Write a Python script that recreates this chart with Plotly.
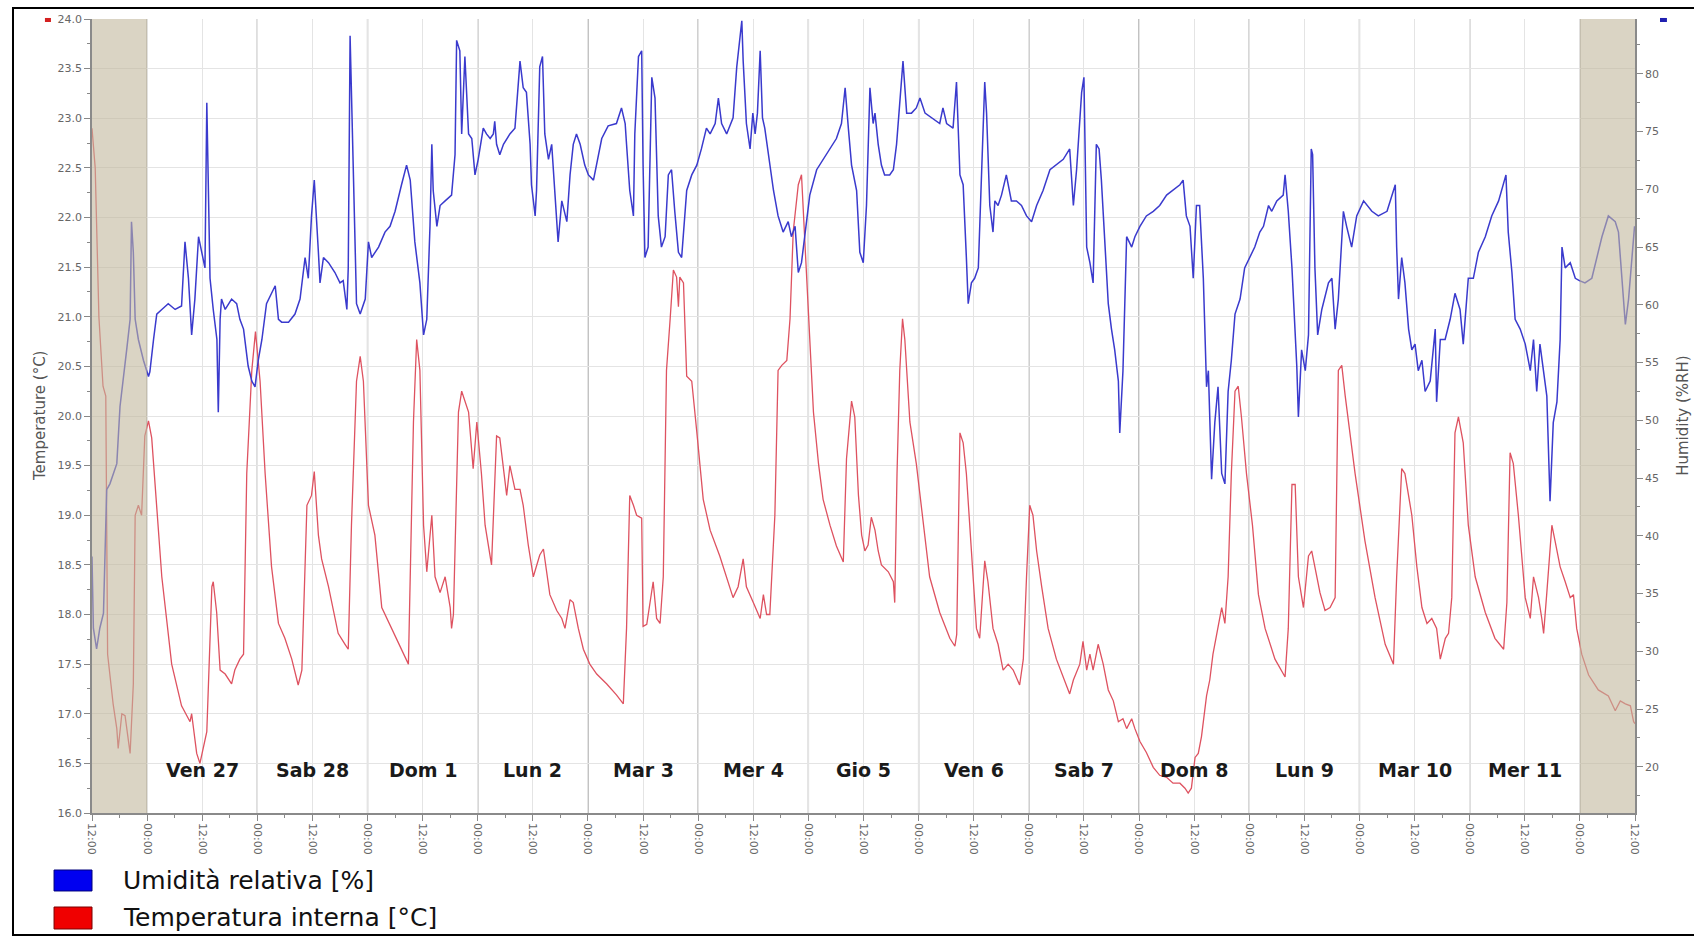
import pandas as pd
import plotly.graph_objects as go

# ---------------- data ----------------
start_time = "2015-02-26 12:00"
end_time = "2015-03-12 12:00"

temp_hours = [0.0, 0.7, 1.5, 2.4, 3.0, 3.4, 4.6, 5.4, 5.7, 6.5, 7.2, 8.3, 9.0, 9.4, 10.1, 10.8, 11.5, 12.3,
              13.0, 15.2, 17.35, 19.5, 21.35, 21.7, 22.8, 23.5, 25.0, 26.1, 26.4, 27.15, 27.9, 29.0, 30.4, 31.1,
              32.2, 33.0, 33.7, 34.8, 35.6, 36.6, 37.7, 39.1, 40.6, 42.0, 43.5, 44.9, 45.7, 46.8, 47.8, 48.4,
              49.3, 50.0, 51.5, 53.6, 55.1, 55.8, 56.5, 57.6, 58.4, 59.1, 60.2, 61.6, 63.1, 65.3, 67.4, 68.9,
              70.0, 70.7, 71.4, 72.2, 72.9, 74.0, 74.7, 75.8, 76.9, 78.0, 78.3, 78.7, 79.8, 80.5, 82.0, 83.0,
              83.8, 84.8, 85.6, 87.0, 88.1, 88.8, 90.3, 91.0, 92.1, 93.2, 93.9, 95.0, 96.1, 96.8, 97.5, 98.3,
              99.7, 101.2, 102.3, 103.0, 104.1, 104.8, 105.9, 107.0, 108.4, 109.9, 112.1, 114.2, 115.7, 116.4,
              117.1, 117.9, 118.6, 119.7, 120.0, 120.8, 122.2, 122.95, 123.7, 124.4, 125.1, 125.9, 126.6, 127.3,
              127.7, 128.0, 128.8, 129.5, 130.6, 131.7, 133.1, 134.6, 136.7, 139.6, 140.7, 141.8, 142.5, 144.0,
              145.5, 146.2, 146.9, 147.6, 148.7, 149.4, 150.2, 151.3, 152.0, 152.7, 153.8, 154.5, 155.3, 156.0,
              157.1, 158.2, 159.2, 160.7, 162.1, 163.6, 164.3, 165.4, 166.1, 166.9, 167.6, 168.3, 169.0, 169.7,
              170.5, 171.2, 171.9, 173.4, 174.5, 174.8, 175.3, 175.9, 176.5, 177.0, 178.1, 179.5, 181.0, 182.4,
              184.6, 186.8, 187.9, 188.3, 189.0, 189.7, 190.4, 191.5, 192.6, 193.3, 194.4, 195.1, 196.2, 197.3,
              198.4, 199.5, 200.6, 202.0, 202.8, 203.5, 204.2, 204.9, 205.7, 206.8, 208.2, 210.0, 211.8, 212.9,
              213.7, 215.1, 215.8, 216.6, 217.3, 218.0, 219.1, 220.2, 221.3, 222.4, 223.5, 224.5, 225.3, 226.4,
              227.1, 228.2, 229.6, 231.1, 232.5, 234.0, 235.4, 236.9, 238.0, 238.7, 239.4, 240.2, 240.9, 241.6,
              242.7, 243.4, 244.1, 245.2, 246.0, 246.7, 247.4, 248.1, 248.9, 249.6, 250.3, 251.4, 252.7, 254.0,
              255.45, 257.6, 259.8, 260.5, 261.3, 262.0, 262.7, 263.8, 264.9, 265.6, 266.3, 267.4, 268.5, 269.6,
              270.7, 271.4, 272.15, 272.9, 275.05, 277.2, 279.4, 281.6, 283.4, 284.1, 285.2, 285.9, 287.4, 288.5,
              289.6, 290.7, 291.75, 292.8, 293.6, 294.7, 295.4, 296.1, 296.8, 297.55, 298.6, 299.7, 301.2, 303.4,
              305.5, 307.4, 308.1, 308.8, 309.5, 310.6, 312.1, 313.2, 313.9, 315.0, 315.7, 316.1, 316.8, 317.9,
              318.6, 319.7, 320.8, 321.9, 322.6, 323.3, 324.4, 325.9, 328.0, 330.2, 331.7, 332.8, 333.9, 335.0,
              335.7, 336.0]
temp_values = [22.9, 22.5, 21.0, 20.3, 20.2, 17.6, 17.1, 16.85, 16.65, 17.0, 16.98, 16.6, 17.3, 19.0, 19.1, 19.0,
               19.8, 19.95, 19.78, 18.38, 17.5, 17.08, 16.92, 17.0, 16.6, 16.5, 16.82, 18.28, 18.33, 18.02, 17.44,
               17.4, 17.3, 17.44, 17.55, 17.6, 19.42, 20.46, 20.85, 20.35, 19.42, 18.48, 17.91, 17.76, 17.55,
               17.29, 17.44, 19.1, 19.2, 19.44, 18.8, 18.56, 18.28, 17.81, 17.7, 17.65, 18.9, 20.35, 20.6, 20.35,
               19.1, 18.8, 18.07, 17.86, 17.65, 17.5, 19.94, 20.77, 20.46, 18.9, 18.43, 19.0, 18.38, 18.22, 18.38,
               18.07, 17.86, 18.0, 20.04, 20.25, 20.04, 19.47, 19.94, 19.42, 18.9, 18.5, 19.8, 19.78, 19.2, 19.5,
               19.26, 19.26, 19.1, 18.7, 18.38, 18.48, 18.6, 18.66, 18.2, 18.04, 17.96, 17.86, 18.15, 18.12,
               17.86, 17.65, 17.5, 17.4, 17.3, 17.19, 17.1, 17.86, 19.2, 19.1, 19.0, 18.97, 17.88, 17.9, 18.33,
               17.96, 17.91, 18.38, 20.46, 20.98, 21.47, 21.4, 21.1, 21.4, 21.34, 20.4, 20.35, 19.84, 19.16,
               18.85, 18.59, 18.17, 18.28, 18.56, 18.28, 18.12, 17.96, 18.2, 18.0, 18.0, 19.0, 20.46, 20.51,
               20.56, 20.98, 21.86, 22.33, 22.43, 21.65, 20.98, 20.04, 19.52, 19.16, 18.9, 18.69, 18.53, 19.57,
               20.15, 19.99, 19.2, 18.8, 18.64, 18.7, 18.98, 18.85, 18.64, 18.5, 18.43, 18.33, 18.12, 19.42,
               20.46, 20.98, 20.77, 19.94, 19.52, 18.9, 18.38, 18.02, 17.76, 17.68, 17.8, 19.83, 19.73, 19.42,
               18.64, 17.86, 17.76, 18.54, 18.33, 17.86, 17.7, 17.44, 17.5, 17.44, 17.29, 17.55, 18.38, 19.1,
               19.0, 18.64, 18.28, 17.86, 17.55, 17.34, 17.2, 17.34, 17.5, 17.73, 17.44, 17.6, 17.44, 17.7,
               17.5, 17.24, 17.13, 16.92, 16.95, 16.85, 16.95, 16.85, 16.72, 16.61, 16.46, 16.38, 16.36, 16.3,
               16.3, 16.25, 16.2, 16.25, 16.56, 16.6, 16.77, 17.18, 17.34, 17.6, 17.86, 18.07, 17.91, 18.38,
               19.42, 20.25, 20.3, 19.99, 19.42, 18.9, 18.2, 17.86, 17.55, 17.37, 17.86, 19.31, 19.31, 18.38,
               18.07, 18.59, 18.64, 18.48, 18.22, 18.04, 18.07, 18.17, 20.46, 20.51, 20.2, 19.42, 18.74, 18.17,
               17.7, 17.5, 18.38, 19.47, 19.42, 19.0, 18.48, 18.07, 17.91, 17.96, 17.86, 17.55, 17.76, 17.81,
               18.17, 19.83, 19.99, 19.73, 18.9, 18.38, 18.02, 17.76, 17.65, 18.12, 19.63, 19.52, 19.0, 18.17,
               17.96, 18.38, 18.17, 17.96, 17.81, 18.22, 18.9, 18.74, 18.48, 18.33, 18.17, 18.2, 17.86, 17.6,
               17.39, 17.24, 17.18, 17.03, 17.13, 17.1, 17.08, 16.92, 16.9]

hum_hours = [0.0, 0.3, 1.0, 1.7, 2.5, 3.2, 3.9, 4.6, 5.4, 6.1, 6.8, 7.55, 8.3, 8.6, 9.0, 9.4, 10.1, 11.2, 12.3,
             12.6, 13.4, 14.1, 15.2, 16.6, 18.1, 19.5, 20.25, 21.0, 21.7, 22.4, 23.2, 23.9, 24.6, 25.0, 25.3,
             25.7, 26.4, 27.2, 27.5, 27.9, 28.2, 29.0, 30.4, 31.5, 32.2, 33.0, 34.0, 34.8, 35.5, 36.2, 37.0,
             38.0, 39.1, 39.9, 40.6, 41.3, 42.8, 44.2, 45.3, 46.4, 47.1, 47.8, 48.4, 48.9, 49.3, 49.65, 50.4,
             51.5, 52.9, 54.0, 54.7, 55.5, 55.8, 56.2, 56.5, 56.9, 57.6, 58.4, 59.5, 60.2, 60.9, 62.4, 63.8,
             64.9, 66.0, 67.4, 68.5, 69.3, 70.3, 71.4, 72.2, 72.9, 73.6, 74.0, 74.3, 75.1, 75.8, 76.9, 78.3,
             79.05, 79.4, 80.1, 80.5, 81.2, 82.0, 82.7, 83.4, 84.1, 85.2, 85.9, 86.7, 87.4, 87.7, 88.1, 88.8,
             89.6, 91.0, 92.1, 93.2, 93.9, 94.6, 95.4, 95.7, 96.5, 96.8, 97.5, 98.1, 98.6, 99.4, 100.1, 100.8,
             101.5, 102.3, 103.4, 104.1, 104.8, 105.5, 106.3, 107.3, 108.1, 109.2, 109.9, 111.0, 112.4, 114.2,
             115.3, 116.1, 116.4, 117.1, 117.9, 118.2, 119.0, 119.7, 120.0, 120.4, 121.1, 121.9, 122.6, 123.3,
             124.0, 124.8, 125.5, 126.2, 126.9, 127.7, 128.4, 129.5, 130.6, 131.7, 132.7, 133.8, 134.6, 135.7,
             136.4, 137.1, 138.2, 139.6, 140.4, 141.1, 141.5, 141.8, 142.5, 143.3, 143.9, 144.4, 144.9, 145.5,
             146.0, 146.5, 147.3, 148.4, 149.4, 150.5, 151.6, 152.3, 153.1, 153.8, 154.5, 155.3, 156.3, 157.8,
             159.2, 160.7, 162.1, 163.2, 164.0, 164.7, 165.4, 166.5, 167.2, 167.95, 168.65, 169.4, 170.1,
             170.5, 171.2, 171.9, 172.6, 173.7, 174.5, 175.2, 175.9, 176.6, 177.4, 178.45, 179.5, 180.3, 181.4,
             182.8, 184.6, 185.3, 186.1, 187.5, 188.25, 189.0, 189.7, 190.4, 190.8, 191.5, 192.2, 193.0,
             194.05, 194.4, 194.8, 195.5, 196.2, 196.6, 197.3, 198.05, 199.1, 200.2, 201.3, 202.4, 203.5,
             204.6, 205.7, 207.1, 208.6, 210.0, 211.5, 212.9, 213.7, 214.4, 215.5, 216.0, 216.6, 217.3, 218.0,
             218.7, 219.3, 219.8, 220.55, 221.3, 222.0, 222.7, 223.5, 223.8, 224.5, 225.3, 226.4, 227.1, 228.2,
             229.6, 231.1, 232.5, 234.0, 235.4, 236.9, 237.6, 238.3, 239.1, 239.8, 240.5, 241.2, 242.0, 242.7,
             243.1, 243.8, 244.5, 245.2, 246.0, 246.7, 247.4, 248.1, 248.9, 250.0, 251.0, 252.1, 253.2, 254.3,
             255.1, 256.2, 256.9, 258.0, 259.4, 259.8, 260.5, 261.3, 261.6, 262.35, 262.7, 263.4, 264.2, 264.9,
             265.5, 265.8, 266.3, 266.9, 267.8, 269.25, 270.0, 270.7, 271.4, 272.5, 273.2, 274.3, 275.4, 276.9,
             278.7, 280.1, 282.0, 283.8, 284.1, 284.5, 285.2, 285.9, 286.7, 287.4, 288.1, 288.8, 289.6, 290.3,
             291.4, 292.5, 292.8, 293.6, 294.65, 295.75, 296.8, 297.9, 298.6, 299.7, 300.8, 301.9, 303.4,
             304.8, 306.3, 307.4, 307.9, 308.4, 309.2, 309.9, 311.0, 312.1, 313.2, 313.9, 314.6, 315.3, 316.1,
             316.8, 317.5, 318.2, 319.0, 319.7, 320.1, 320.8, 321.9, 323.0, 323.9, 325.1, 326.6, 327.7, 328.8,
             330.2, 331.7, 332.4, 333.1, 333.9, 334.6, 335.3, 335.9]
hum_values = [38.2, 32.0, 30.2, 32.0, 33.3, 44.0, 44.5, 45.4, 46.25, 51.2, 53.8, 56.1, 58.75, 67.2, 64.55, 58.75,
              57.0, 55.2, 53.8, 54.2, 57.0, 59.2, 59.6, 60.1, 59.6, 59.9, 65.45, 62.3, 57.4, 60.5, 65.9, 64.55,
              63.2, 77.5, 70.8, 62.3, 59.6, 57.0, 50.7, 58.75, 60.5, 59.6, 60.5, 60.1, 58.75, 57.9, 54.7, 53.4,
              52.9, 55.2, 57.0, 60.1, 61.0, 61.65, 58.75, 58.5, 58.5, 59.2, 60.5, 64.1, 62.3, 67.7, 70.8, 67.7,
              64.55, 61.9, 64.1, 63.65, 62.8, 61.9, 62.1, 59.6, 63.2, 83.3, 78.4, 69.9, 60.1, 59.2, 60.5, 65.45,
              64.1, 65.0, 66.3, 66.8, 68.1, 70.4, 72.1, 70.8, 65.45, 61.9, 57.4, 58.75, 66.8, 73.9, 69.9, 66.8,
              68.6, 69.0, 69.5, 73.0, 82.9, 82.0, 74.8, 81.5, 74.8, 74.4, 71.25, 72.6, 75.3, 74.8, 74.4, 74.8,
              75.9, 73.9, 73.0, 73.9, 74.8, 75.3, 81.1, 78.8, 78.4, 73.9, 70.4, 67.7, 69.9, 80.6, 81.5, 74.8,
              72.6, 73.9, 69.5, 65.45, 69.0, 67.2, 71.25, 73.9, 74.8, 73.9, 72.1, 71.25, 70.8, 72.1, 74.4, 75.5,
              75.7, 77.05, 75.7, 73.9, 69.9, 67.7, 74.8, 81.5, 82.0, 72.1, 64.1, 65.0, 79.7, 77.9, 67.7, 65.0,
              65.9, 71.25, 71.7, 68.1, 64.55, 64.1, 69.9, 71.25, 72.1, 73.5, 75.3, 74.8, 75.7, 77.9, 75.7, 74.8,
              76.2, 80.6, 82.9, 84.6, 81.1, 75.7, 73.5, 76.6, 74.8, 76.6, 82.0, 76.2, 75.3, 73.0, 69.9, 67.7,
              66.3, 67.2, 65.9, 66.8, 62.8, 63.65, 66.3, 69.5, 71.7, 72.6, 73.5, 74.4, 75.7, 78.8, 75.3, 72.1,
              69.9, 64.55, 63.65, 68.6, 78.8, 75.7, 76.6, 73.9, 72.1, 71.25, 71.25, 71.7, 73.9, 77.5, 81.1, 76.6,
              76.6, 77.05, 77.9, 76.6, 76.2, 75.7, 77.05, 75.7, 75.3, 79.3, 71.25, 70.4, 64.1, 60.1, 61.9, 62.3,
              63.2, 74.8, 79.3, 76.6, 68.6, 66.3, 69.0, 68.6, 69.5, 71.25, 69.0, 69.0, 68.6, 67.7, 67.2, 68.6,
              69.9, 71.7, 72.1, 72.6, 73.5, 68.6, 71.7, 78.4, 79.7, 65.0, 63.65, 61.9, 73.9, 73.5, 70.8, 65.45,
              60.1, 57.9, 56.1, 53.4, 48.9, 54.3, 65.9, 65.0, 65.9, 66.8, 67.7, 68.1, 68.6, 69.5, 69.9, 70.4,
              70.8, 67.7, 66.8, 62.3, 68.6, 68.6, 62.3, 52.9, 54.3, 44.9, 49.8, 52.9, 45.4, 44.5, 52.5, 55.2,
              59.2, 60.5, 63.2, 64.1, 65.0, 66.3, 66.8, 68.6, 68.1, 69.0, 69.5, 71.25, 68.1, 63.2, 61.0, 54.7,
              50.3, 56.1, 54.3, 57.4, 73.5, 73.0, 63.2, 57.4, 59.6, 61.9, 62.3, 57.9, 60.5, 68.1, 66.8, 65.0,
              67.7, 69.0, 68.1, 67.7, 68.1, 70.4, 65.0, 60.5, 64.1, 61.9, 57.9, 56.1, 56.6, 54.3, 55.2, 52.5,
              53.4, 57.9, 51.6, 57.0, 57.0, 58.75, 61.0, 59.6, 56.6, 62.3, 62.3, 64.55, 65.9, 67.7, 69.0, 70.4,
              71.25, 66.3, 62.8, 58.75, 57.9, 56.6, 54.3, 57.0, 52.5, 56.6, 54.3, 52.1, 43.0, 49.8, 51.6, 57.0,
              65.0, 63.2, 63.65, 62.3, 62.1, 61.9, 62.3, 64.1, 65.9, 67.7, 67.2, 66.3, 62.3, 58.3, 60.5, 63.65,
              66.8]

day_labels = ["Ven 27", "Sab 28", "Dom 1", "Lun 2", "Mar 3", "Mer 4", "Gio 5",
              "Ven 6", "Sab 7", "Dom 8", "Lun 9", "Mar 10", "Mer 11"]
series_names = ["Umidità relativa [%]", "Temperatura interna [°C]"]
temp_axis_title = "Temperature (°C)"
hum_axis_title = "Humidity (%RH)"
hum_tick_values = [20, 25, 30, 35, 40, 45, 50, 55, 60, 65, 70, 75, 80]

# ---------------- figure ----------------
t0 = pd.Timestamp(start_time)
t1 = pd.Timestamp(end_time)
temp_x = t0 + pd.to_timedelta(temp_hours, unit="h")
hum_x = t0 + pd.to_timedelta(hum_hours, unit="h")

BLUE = "rgb(58,58,205)"
RED = "rgb(222,82,96)"
FONT = "DejaVu Sans"

fig = go.Figure()
fig.add_trace(go.Scatter(x=temp_x, y=temp_values, mode="lines", name=series_names[1],
                         line=dict(color=RED, width=1.3), yaxis="y"))
fig.add_trace(go.Scatter(x=hum_x, y=hum_values, mode="lines", name=series_names[0],
                         line=dict(color=BLUE, width=1.5), yaxis="y2"))

shapes = []
# darker midnight lines
for d in pd.date_range(t0.normalize() + pd.Timedelta(days=1), t1, freq="D"):
    shapes.append(dict(type="line", xref="x", yref="paper", x0=d, x1=d, y0=0, y1=1,
                       line=dict(color="#9c9c9c", width=1.3), layer="between"))
# shaded (outside measurement window) areas
for a, b in [(t0, t0 + pd.Timedelta(hours=12)), (t1 - pd.Timedelta(hours=12), t1)]:
    shapes.append(dict(type="rect", xref="x", yref="paper", x0=a, x1=b, y0=0, y1=1,
                       fillcolor="rgb(193,183,157)", opacity=0.6, line=dict(width=0), layer="above"))
# outer frame
shapes.append(dict(type="rect", xref="paper", yref="paper", x0=-0.0512, x1=1.05, y0=-0.1537, y1=1.0139,
                   line=dict(color="black", width=2), fillcolor="rgba(0,0,0,0)", layer="above"))
# legend swatches
shapes.append(dict(type="rect", xref="paper", yref="paper", x0=-0.0246, x1=0.0, y0=-0.0982, y1=-0.0718,
                   fillcolor="#0000f0", line=dict(color="#00007a", width=1)))
shapes.append(dict(type="rect", xref="paper", yref="paper", x0=-0.0246, x1=0.0, y0=-0.1461, y1=-0.1184,
                   fillcolor="#f00000", line=dict(color="#7a0000", width=1)))
# small series markers at axis tops
shapes.append(dict(type="rect", xref="paper", yref="paper", x0=-0.0305, x1=-0.0266, y0=0.9962, y1=1.0013,
                   fillcolor="#d42020", line=dict(width=0)))
shapes.append(dict(type="rect", xref="paper", yref="paper", x0=1.0162, x1=1.0207, y0=0.9962, y1=1.0013,
                   fillcolor="#2020b0", line=dict(width=0)))

annotations = []
for i, lab in enumerate(day_labels):
    annotations.append(dict(x=t0 + pd.Timedelta(days=i + 1), y=0.054, xref="x", yref="paper", text=lab,
                            showarrow=False, font=dict(family=FONT, size=19, color="#1a1a1a", weight="bold"),
                            xanchor="center", yanchor="middle"))
annotations.append(dict(x=0.0188, y=-0.085, xref="paper", yref="paper", text=series_names[0], showarrow=False,
                        xanchor="left", yanchor="middle", font=dict(family=FONT, size=25, color="#111")))
annotations.append(dict(x=0.0188, y=-0.132, xref="paper", yref="paper", text=series_names[1], showarrow=False,
                        xanchor="left", yanchor="middle", font=dict(family=FONT, size=25, color="#111")))
annotations.append(dict(x=-0.0337, y=0.50, xref="paper", yref="paper", text=temp_axis_title, showarrow=False,
                        textangle=-90, xanchor="center", yanchor="middle",
                        font=dict(family=FONT, size=15, color="#555")))
annotations.append(dict(x=1.031, y=0.50, xref="paper", yref="paper", text=hum_axis_title, showarrow=False,
                        textangle=-90, xanchor="center", yanchor="middle",
                        font=dict(family=FONT, size=15, color="#555")))

fig.update_layout(
    width=1694, height=937,
    margin=dict(l=92, r=59, t=19, b=124),
    paper_bgcolor="white", plot_bgcolor="white",
    showlegend=False,
    shapes=shapes, annotations=annotations,
    xaxis=dict(type="date", range=[t0, t1], tick0=t0, dtick=43200000, tickformat="%H:%M",
               tickangle=90, ticks="outside", ticklen=6, tickcolor="#888",
               tickfont=dict(family=FONT, size=11, color="#666"),
               showgrid=True, gridcolor="#e4e4e4", gridwidth=1,
               minor=dict(ticks="outside", ticklen=3, tickcolor="#888", dtick=21600000, showgrid=False),
               showline=True, linecolor="#8a8a8a", linewidth=1.5, zeroline=False),
    yaxis=dict(range=[16, 24], dtick=0.5, tick0=16, tickformat=".1f",
               ticks="outside", ticklen=6, tickcolor="#888",
               tickfont=dict(family=FONT, size=11, color="#666"),
               showgrid=True, gridcolor="#e4e4e4", gridwidth=1,
               minor=dict(ticks="outside", ticklen=3, tickcolor="#888", dtick=0.25, showgrid=False),
               showline=True, linecolor="#8a8a8a", linewidth=1.5, zeroline=False),
    yaxis2=dict(range=[16, 84.75], overlaying="y", side="right", tickvals=hum_tick_values,
                ticks="outside", ticklen=6, tickcolor="#888",
                tickfont=dict(family=FONT, size=11, color="#666"),
                showgrid=False,
                minor=dict(ticks="outside", ticklen=3, tickcolor="#888", tick0=20, dtick=2.5, showgrid=False),
                showline=True, linecolor="#8a8a8a", linewidth=1.5, zeroline=False),
)

fig.write_html("out.html")
